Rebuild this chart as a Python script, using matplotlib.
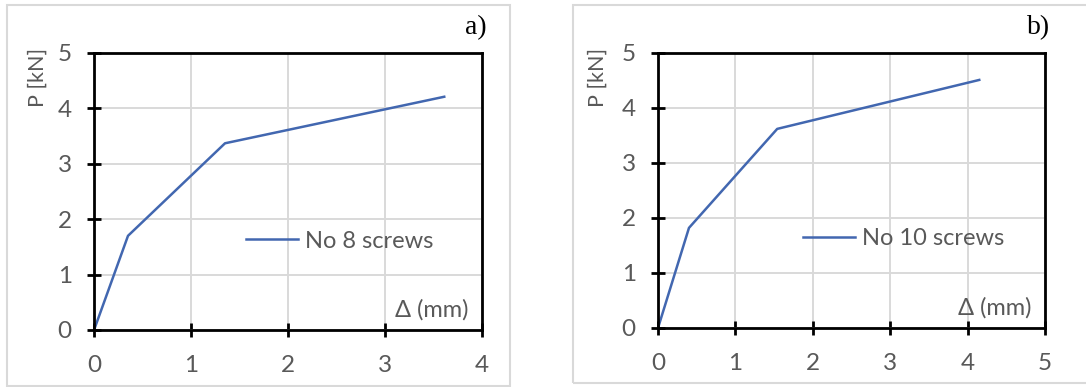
import matplotlib as mpl
import matplotlib.pyplot as plt
from matplotlib.patches import Rectangle

mpl.rcParams.update({
    "font.family": ["Lato", "DejaVu Sans"],
    "font.size": 17,
})

# load–slip curves
DISP_A = [0.0, 0.35, 1.35, 3.61]
LOAD_A = [0.0, 1.70, 3.37, 4.21]
DISP_B = [0.0, 0.40, 1.54, 4.15]
LOAD_B = [0.0, 1.82, 3.62, 4.51]

LABEL_A = "No 8 screws"
LABEL_B = "No 10 screws"
XMAX_A, XMAX_B = 4, 5
YMAX = 5

C_LINE = "#4267B0"
C_TEXT = "#595959"
C_GRID = "#D9D9D9"


def draw(ax, x, y, label, xmax, leg_xy):
    ax.plot(x, y, color=C_LINE, lw=1.8, label=label, zorder=3)
    ax.set_xlim(0, xmax)
    ax.set_ylim(0, YMAX)
    ax.set_xticks(range(xmax + 1))
    ax.set_yticks(range(YMAX + 1))
    ax.grid(True, color=C_GRID, lw=1.4)
    ax.set_axisbelow(True)
    for sp in ax.spines.values():
        sp.set_color("black")
        sp.set_linewidth(2.0)
        sp.set_zorder(4)
    ax.tick_params(direction="inout", length=10, width=2.0, color="black",
                   labelcolor=C_TEXT, labelsize=17.5)
    ax.tick_params(axis="x", pad=13)
    ax.tick_params(axis="y", pad=11)
    ax.text(0.965, 0.072, "Δ (mm)", transform=ax.transAxes, ha="right",
            va="center", fontsize=17, color=C_TEXT)
    leg = ax.legend(loc="center left", bbox_to_anchor=leg_xy, frameon=False,
                    borderpad=0, borderaxespad=0, handlelength=2.2,
                    handletextpad=0.3, fontsize=17)
    for t in leg.get_texts():
        t.set_color(C_TEXT)


fig = plt.figure(figsize=(10.86, 3.87), dpi=100)

# panel frames
fig.patches.append(Rectangle((0.0065, 0.0026), 0.463, 0.9845, transform=fig.transFigure,
                             fill=False, edgecolor=C_GRID, lw=1.5))
fig.patches.append(Rectangle((0.5276, 0.0103), 0.48, 0.976, transform=fig.transFigure,
                             fill=False, edgecolor=C_GRID, lw=1.5))

ax_a = fig.add_axes([0.0866, 0.1473, 0.3573, 0.7158])
draw(ax_a, DISP_A, LOAD_A, LABEL_A, XMAX_A, (0.392, 0.321))

ax_b = fig.add_axes([0.6059, 0.1525, 0.3564, 0.7106])
draw(ax_b, DISP_B, LOAD_B, LABEL_B, XMAX_B, (0.375, 0.324))

for xl, yl in [(0.035, 0.80), (0.5506, 0.80)]:
    fig.text(xl, yl, "P [kN]", rotation=90, ha="center", va="center",
             fontsize=15.5, color=C_TEXT)

fig.text(0.4484, 0.9276, "a)", ha="right", va="center", fontsize=20,
         family="Liberation Serif", color="black")
fig.text(0.9669, 0.9276, "b)", ha="right", va="center", fontsize=20,
         family="Liberation Serif", color="black")

fig.savefig("out.png", dpi=100)
